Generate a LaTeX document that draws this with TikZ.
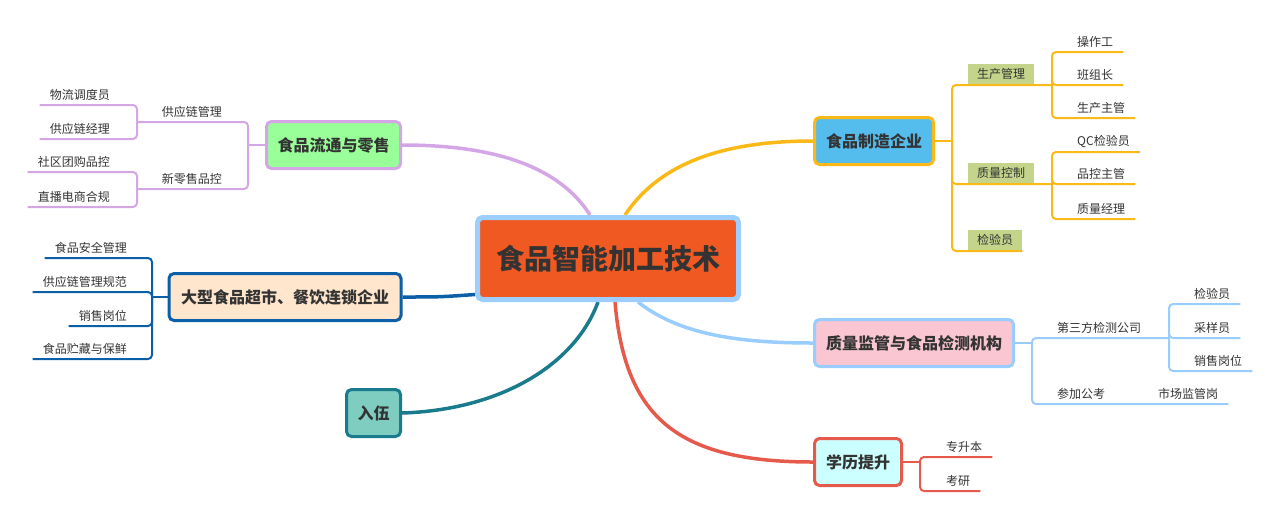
\documentclass[tikz,border=0pt]{standalone}
\usepackage{fontspec}
\setmainfont{Noto Sans CJK SC}
\usetikzlibrary{backgrounds}
\definecolor{txt}{HTML}{333333}
\definecolor{rootfill}{HTML}{F05A22}
\definecolor{rootline}{HTML}{9CCFFF}
\definecolor{ltfill}{HTML}{99FF99}
\definecolor{ltline}{HTML}{D5A6E6}
\definecolor{csfill}{HTML}{FFE6CC}
\definecolor{csline}{HTML}{0B5EA8}
\definecolor{rwfill}{HTML}{7ECDC0}
\definecolor{rwline}{HTML}{1A7B8C}
\definecolor{zzfill}{HTML}{55BDED}
\definecolor{zzline}{HTML}{FBB917}
\definecolor{jcfill}{HTML}{F9C6D2}
\definecolor{jcline}{HTML}{99CCFF}
\definecolor{xlfill}{HTML}{CCFFFF}
\definecolor{xlline}{HTML}{E55A4A}
\definecolor{tagfill}{HTML}{C4D48B}
\begin{document}
\begin{tikzpicture}[x=1pt,y=-1pt]
    \tikzset{topic/.style={draw,line width=3pt,rounded corners=5pt,minimum
        height=47pt,text=txt,font=\bfseries\fontsize{16}{16}\selectfont},
      leafl/.style={anchor=south east,inner xsep=10pt,inner ysep=4pt,text=txt,
        font=\fontsize{12}{12}\selectfont},leafr/.style={leafl,anchor=south
        west},tag/.style={leafr,fill=tagfill,inner xsep=9pt,inner ysep=5pt},
      sub/.style={line width=2pt,rounded corners=4pt},
      main/.style={line width=3.5pt}}
    \useasboundingbox (0,0) rectangle (1280,520);

    \node[topic,fill=rootfill,draw=rootline,line width=5pt,minimum
    width=261pt,minimum height=82pt,font=\bfseries\fontsize{28}{28}\selectfont]
    (root) at (608,258.5) {食品智能加工技术};
    \node[topic,fill=ltfill,draw=ltline,minimum width=134pt] (lt) at (333.5,145) {食品流通与零售};
    \node[topic,fill=csfill,draw=csline,minimum width=232pt] (cs) at (285,297) {大型食品超市、餐饮连锁企业};
    \node[topic,fill=rwfill,draw=rwline,minimum width=54pt] (rw) at (373.5,413) {入伍};
    \node[topic,fill=zzfill,draw=zzline,minimum width=119pt] (zz) at (874,141) {食品制造企业};
    \node[topic,fill=jcfill,draw=jcline,minimum width=199pt] (jc) at (914,343) {质量监管与食品检测机构};
    \node[topic,fill=xlfill,draw=xlline,minimum width=87pt] (xl) at (858,462) {学历提升};

    \begin{scope}[on background layer]
      \draw[main,ltline] ([xshift=-18pt]root.north) .. controls (555,160) and (480,145) .. (lt.east);
      \draw[main,csline] ([yshift=-36pt]root.west) .. controls (440,297) .. (cs.east);
      \draw[main,rwline] ([xshift=-10pt]root.south) .. controls (575,365) and (500,410) .. (rw.east);
      \draw[main,zzline] ([xshift=17pt]root.north) .. controls (665,155) and (740,141) .. (zz.west);
      \draw[main,jcline] ([xshift=30pt]root.south) .. controls (680,335) and (740,343) .. (jc.west);
      \draw[main,xlline] ([xshift=7pt]root.south) .. controls (625,420) and (680,462) .. (xl.west);
    \end{scope}

    \node[leafl] (gyl) at (232,122) {供应链管理};
    \node[leafl] (xls) at (232,189) {新零售品控};
    \node[leafl] (wl) at (120,105) {物流调度员};
    \node[leafl] (gyjl) at (120,139) {供应链经理};
    \node[leafl] (sq) at (120,172) {社区团购品控};
    \node[leafl] (zb) at (120,207) {直播电商合规};
    \coordinate (ltb) at (248,145);
    \coordinate (gylb) at (137,122);
    \coordinate (xlsb) at (137,189);
    \draw[sub,ltline] (lt.west) -- (ltb);
    \draw[sub,ltline] (ltb) |- (gylb);
    \draw[sub,ltline] (ltb) |- (xlsb);
    \draw[sub,ltline] (gylb) |- (wl.south west);
    \draw[sub,ltline] (gylb) |- (gyjl.south west);
    \draw[sub,ltline] (xlsb) |- (sq.south west);
    \draw[sub,ltline] (xlsb) |- (zb.south west);

    \node[leafl] (aq) at (137,258) {食品安全管理};
    \node[leafl] (gyg) at (137,292) {供应链管理规范};
    \node[leafl] (xs) at (137,326) {销售岗位};
    \node[leafl] (zc) at (137,359) {食品贮藏与保鲜};
    \coordinate (csb) at (152,297);
    \draw[sub,csline] (cs.west) -- (csb);
    \foreach \n in {aq,gyg,xs,zc}
      \draw[sub,csline] (csb) |- (\n.south west);

    \node[tag] (scgl) at (968,85) {生产管理};
    \node[tag] (zlkz) at (968,184) {质量控制};
    \node[tag] (jyy) at (968,251) {检验员};
    \node[leafr] (czg) at (1067,52) {操作工};
    \node[leafr] (bzz) at (1067,85) {班组长};
    \node[leafr] (sczg) at (1067,118) {生产主管};
    \node[leafr] (qc) at (1067,152) {QC检验员};
    \node[leafr] (pkzg) at (1067,184) {品控主管};
    \node[leafr] (zljl) at (1067,219) {质量经理};
    \coordinate (zzb) at (952,141);
    \coordinate (scglb) at (1052,85);
    \coordinate (zlkzb) at (1052,184);
    \draw[sub,zzline] (zz.east) -- (zzb);
    \draw[sub,zzline] (zzb) |- (scglb);
    \draw[sub,zzline] (zzb) |- (zlkzb);
    \draw[sub,zzline] (zzb) |- (jyy.south east);
    \foreach \n in {czg,bzz,sczg}
      \draw[sub,zzline] (scglb) |- (\n.south east);
    \foreach \n in {qc,pkzg,zljl}
      \draw[sub,zzline] (zlkzb) |- (\n.south east);

    \node[leafr] (dsf) at (1047,338) {第三方检测公司};
    \node[leafr] (jy) at (1184,304) {检验员};
    \node[leafr] (cy) at (1184,338) {采样员};
    \node[leafr] (xsg) at (1184,371) {销售岗位};
    \node[leafr] (gk) at (1047,404) {参加公考};
    \node[leafr] (scjg) at (1148,404) {市场监管岗};
    \coordinate (jcb) at (1032,343);
    \coordinate (dsfb) at (1169,338);
    \draw[sub,jcline] (jc.east) -- (jcb);
    \draw[sub,jcline] (jcb) |- (dsfb);
    \draw[sub,jcline] (jcb) |- (scjg.south east);
    \foreach \n in {jy,cy,xsg}
      \draw[sub,jcline] (dsfb) |- (\n.south east);

    \node[leafr] (zsb) at (936,457) {专升本};
    \node[leafr] (ky) at (936,491) {考研};
    \coordinate (xlb) at (920,462);
    \draw[sub,xlline] (xl.east) -- (xlb);
    \draw[sub,xlline] (xlb) |- (zsb.south east);
    \draw[sub,xlline] (xlb) |- (ky.south east);

  \end{tikzpicture}
\end{document}
